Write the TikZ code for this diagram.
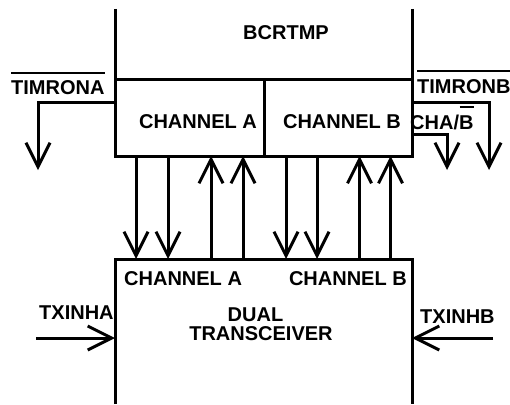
\documentclass[tikz,border=0pt]{standalone}
\usepackage{fontspec}
\setmainfont{Liberation Sans}
\usetikzlibrary{arrows.meta}
\begin{document}
\begin{tikzpicture}[x=1pt,y=-1pt,
  ln/.style={line width=3pt},
  arr/.style={line width=3pt,-{Straight Barb[length=24pt,width=24pt,line width=3pt]}},
  box/.style={draw,line width=3pt,anchor=north west,inner sep=0pt,outer sep=0pt},
  lbl/.style={font=\bfseries\fontsize{20}{20}\selectfont,inner sep=0pt},
  ovl/.style={line width=2pt}]
\useasboundingbox (0,0) rectangle (510,404);
% boxes
\node[box,minimum width=149.5pt,minimum height=77pt] (chA) at (115,79) {};
\node[box,minimum width=147.5pt,minimum height=77pt] (chB) at (264.5,79) {};
\coordinate (trNW) at (115,259);
\coordinate (trNE) at (412,259);
\coordinate (trSW) at (115,404);
\coordinate (trSE) at (412,404);
\coordinate (bcL) at (115,9);
\coordinate (bcR) at (412,9);
\draw[ln] (bcL) -- (chA.north west);
\draw[ln] (bcR) -- (chB.north east);
\draw[ln] (trSW) -- (trNW) -- (trNE) -- (trSE);
% labels
\node[lbl] (bcrtmp) at (286,33) {BCRTMP};
\node[lbl] (lchA) at (198,122) {CHANNEL A};
\node[lbl] (lchB) at (342,122) {CHANNEL B};
\node[lbl,anchor=west] (tchA) at (124,279) {CHANNEL A};
\node[lbl,anchor=east] (tchB) at (407,279) {CHANNEL B};
\node[lbl] (dual) at (255.5,315) {DUAL};
\node[lbl] (trx) at (261,334) {TRANSCEIVER};
\node[lbl,anchor=west] (txa) at (39,313) {TXINHA};
\node[lbl,anchor=west] (txb) at (420,317) {TXINHB};
\node[lbl,anchor=west] (tma) at (11,88) {TIMRONA};
\node[lbl,anchor=west] (tmb) at (417,86.5) {TIMRONB};
\node[lbl,anchor=base west] (chab) at (410,129) {CHA/B};
\draw[ovl] ([yshift=8pt]tma.north west) -- ([yshift=8pt]tma.north east);
\draw[ovl] ([yshift=8pt]tmb.north west) -- ([yshift=8pt]tmb.north east);
\draw[ovl] ([xshift=-14pt,yshift=7pt]chab.north east) -- ([yshift=7pt]chab.north east);
% signal arrows
\coordinate (a1) at (38,170);
\coordinate (b1) at (489,170);
\coordinate (c1) at (447,170);
\draw[arr] ([yshift=-23pt]chA.north west) -| (a1);
\draw[arr] ([yshift=-23pt]chB.north east) -| (b1);
\draw[arr] ([yshift=-55pt]chB.north east) -| (c1);
\coordinate (xa) at (36,338);
\coordinate (xb) at (493,338);
\draw[arr] (xa) -- (xa -| trNW);
\draw[arr] (xb) -- (xb -| trNE);
% channel buses
\foreach \d in {21,53}{
  \draw[arr] ([xshift=\d pt]chA.south west) -- ([xshift=\d pt]trNW);
  \draw[arr] ([xshift=\d pt+75pt]trNW) -- ([xshift=\d pt+75pt]chA.south west);
}
\foreach \d in {21.5,52.5}{
  \draw[arr] ([xshift=\d pt]chB.south west) -- ([xshift=\d pt+149.5pt]trNW);
  \draw[arr] ([xshift=\d pt+73.5pt+149.5pt]trNW) -- ([xshift=\d pt+73.5pt]chB.south west);
}
\end{tikzpicture}
\end{document}
